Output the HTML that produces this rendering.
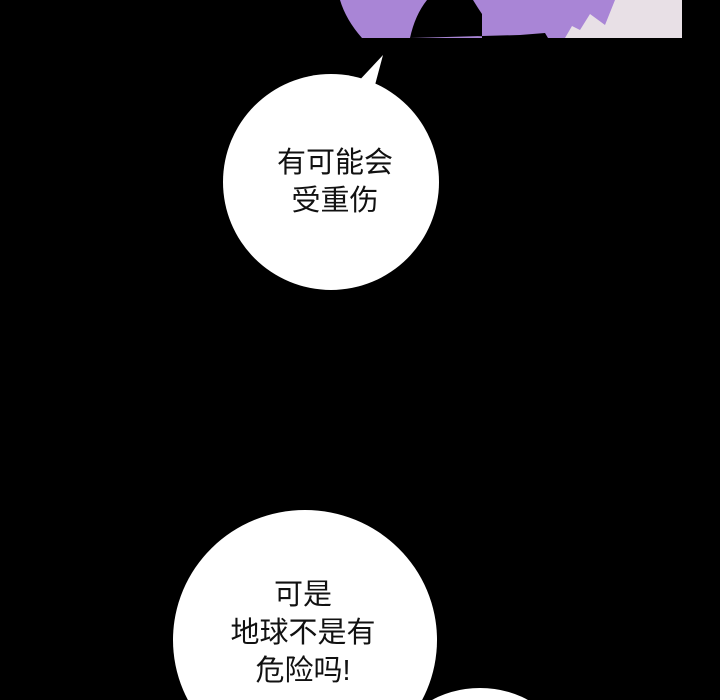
<!DOCTYPE html>
<html><head><meta charset="utf-8"><style>
html,body{margin:0;padding:0;background:#000;}
body{width:720px;height:700px;overflow:hidden;position:relative;font-family:"Liberation Sans","Noto Sans CJK SC",sans-serif;}
svg{position:absolute;left:0;top:0;}
.t{position:absolute;text-align:center;color:#111;font-size:29px;line-height:38px;white-space:nowrap;}
</style></head><body>
<svg width="720" height="700">
<rect x="565" y="0" width="117" height="38" fill="#e8e0e6"/>
<path d="M340 0 L615 0 L605 25 L590 14 L580 30 L572 26 L565 38 L362 38 Q346 20 340 0Z" fill="#a985d6"/>
<path d="M427 0 L473 0 L478 8 L482 14 L482 38 L548 38 L545 33 L520 35 L410 38 Q415 15 427 0Z" fill="#000"/>
<polygon points="383,55 375,85 355,85" fill="#fff"/>
<ellipse cx="331" cy="182" rx="108" ry="108" fill="#fff"/>
<ellipse cx="305" cy="640" rx="132" ry="130" fill="#fff"/>
<ellipse cx="480" cy="740" rx="75" ry="52" fill="#fff"/>
</svg>
<div class="t" style="left:235px;top:144px;width:200px;">有可能会<br>受重伤</div>
<div class="t" style="left:203px;top:576px;width:200px;">可是<br>地球不是有<br>危险吗!</div>
</body></html>
